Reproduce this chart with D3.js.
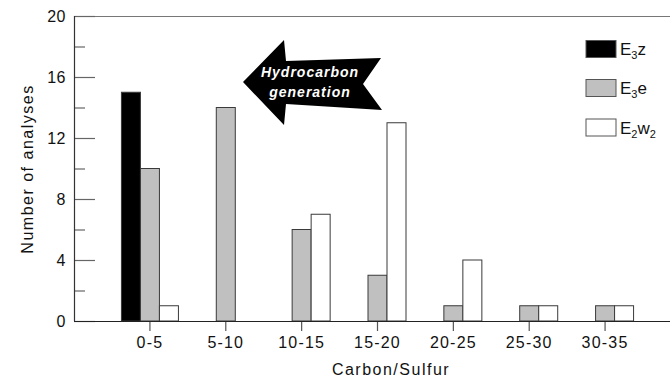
<!DOCTYPE html>
<html>
<head>
<meta charset="utf-8">
<script src="https://cdn.jsdelivr.net/npm/d3@7"></script>
<style>
  html, body { margin: 0; padding: 0; background: #fff; }
  svg { display: block; font-family: "Liberation Sans", Arial, sans-serif; }
</style>
</head>
<body>
<svg id="chart" width="670" height="382"></svg>
<script>
const categories = ["0-5", "5-10", "10-15", "15-20", "20-25", "25-30", "30-35"];
const seriesNames = ["E3z", "E3e", "E2w2"];
const E3z  = [15, 0, 0, 0, 0, 0, 0];
const E3e  = [10, 14, 6, 3, 1, 1, 1];
const E2w2 = [1, 0, 7, 13, 4, 1, 1];
const seriesValues = [E3z, E3e, E2w2];
const seriesColors = ["#000000", "#c0c0c0", "#ffffff"];
const legendLabels = [
  {base: "E", sub1: "3", rest: "z", sub2: ""},
  {base: "E", sub1: "3", rest: "e", sub2: ""},
  {base: "E", sub1: "2", rest: "w", sub2: "2"}
];
const yMajorTicks = [0, 4, 8, 12, 16, 20];
const yMinorTicks = [2, 6, 10, 14, 18];

const svg = d3.select("#chart");
const plotLeft = 74, plotTop = 16, plotBottom = 321, plotRight = 670;

const x0 = d3.scaleBand().domain(categories).range([112, 643]).paddingInner(0).paddingOuter(0);
const x1 = d3.scaleBand().domain(seriesNames).range([-28.5, 28.5]);
const y = d3.scaleLinear().domain([0, 20]).range([plotBottom, plotTop]);

// bars
seriesNames.forEach((s, si) => {
  svg.append("g").selectAll("rect")
    .data(categories.map((c, i) => ({c, v: seriesValues[si][i]})).filter(d => d.v > 0))
    .join("rect")
    .attr("x", d => x0(d.c) + x0.bandwidth() / 2 + x1(s))
    .attr("y", d => y(d.v))
    .attr("width", x1.bandwidth())
    .attr("height", d => y(0) - y(d.v))
    .attr("fill", seriesColors[si])
    .attr("stroke", "#3a3a3a")
    .attr("stroke-width", 1);
});

// top frame line
svg.append("line").attr("x1", plotLeft).attr("x2", plotRight).attr("y1", plotTop + 0.5).attr("y2", plotTop + 0.5)
  .attr("stroke", "#777").attr("stroke-width", 1.2);

// Y axis major
const yAxisMajor = d3.axisLeft(y).tickValues(yMajorTicks).tickSize(-21).tickPadding(8);
const gy = svg.append("g").attr("transform", `translate(${plotLeft},0)`).call(yAxisMajor);
gy.select(".domain").remove();
gy.selectAll(".tick line").attr("stroke", "#666").attr("stroke-width", 1.2);
gy.selectAll(".tick text").attr("font-size", 16).attr("fill", "#111")
  .attr("font-family", "Liberation Sans, Arial, sans-serif").attr("letter-spacing", 0.5);

// Y axis minor
const yAxisMinor = d3.axisLeft(y).tickValues(yMinorTicks).tickSize(-11).tickFormat("");
const gym = svg.append("g").attr("transform", `translate(${plotLeft},0)`).call(yAxisMinor);
gym.select(".domain").remove();
gym.selectAll(".tick line").attr("stroke", "#666").attr("stroke-width", 1.2);

// y axis line
svg.append("line").attr("x1", plotLeft + 0.5).attr("x2", plotLeft + 0.5).attr("y1", plotTop).attr("y2", plotBottom)
  .attr("stroke", "#333").attr("stroke-width", 1.2);

// X axis
const xAxis = d3.axisBottom(x0).tickSize(10).tickPadding(6);
const gx = svg.append("g").attr("transform", `translate(0,${plotBottom})`).call(xAxis);
gx.select(".domain").remove();
gx.selectAll(".tick line").attr("stroke", "#555").attr("stroke-width", 1.2);
gx.selectAll(".tick text").attr("font-size", 16).attr("fill", "#111")
  .attr("font-family", "Liberation Sans, Arial, sans-serif").attr("letter-spacing", 1.2);

svg.append("line").attr("x1", plotLeft).attr("x2", plotRight).attr("y1", plotBottom + 0.5).attr("y2", plotBottom + 0.5)
  .attr("stroke", "#222").attr("stroke-width", 1.2);

// axis titles
svg.append("text").attr("x", 391).attr("y", 375).attr("text-anchor", "middle")
  .attr("font-size", 16).attr("letter-spacing", 1.5).attr("fill", "#111").text("Carbon/Sulfur");
svg.append("text").attr("transform", "translate(33,169) rotate(-90)").attr("text-anchor", "middle")
  .attr("font-size", 16).attr("letter-spacing", 1.5).attr("fill", "#111").text("Number of analyses");

// Arrow
const arrowPts = [[243,82],[284,40],[286,61],[381,58],[363,84],[382,110],[286,104],[284,125]];
svg.append("path").attr("d", d3.line()(arrowPts) + "Z").attr("fill", "#000");
svg.append("text").attr("x", 310).attr("y", 77).attr("text-anchor", "middle")
  .attr("font-size", 14).attr("font-weight", "bold").attr("font-style", "italic")
  .attr("letter-spacing", 1).attr("fill", "#fff").text("Hydrocarbon");
svg.append("text").attr("x", 310).attr("y", 97).attr("text-anchor", "middle")
  .attr("font-size", 14).attr("font-weight", "bold").attr("font-style", "italic")
  .attr("letter-spacing", 1).attr("fill", "#fff").text("generation");

// Legend
const legendY = [49, 88, 127.5];
seriesNames.forEach((s, i) => {
  const g = svg.append("g").attr("transform", `translate(586,${legendY[i]})`);
  g.append("rect").attr("x", 0).attr("y", -8.5).attr("width", 30).attr("height", 17)
    .attr("fill", seriesColors[i]).attr("stroke", "#555").attr("stroke-width", 1);
  const t = g.append("text").attr("x", 34).attr("y", 6).attr("font-size", 17).attr("fill", "#111");
  const L = legendLabels[i];
  t.append("tspan").text(L.base);
  t.append("tspan").attr("font-size", 11).attr("dy", 4).text(L.sub1);
  t.append("tspan").attr("dy", -4).text(L.rest);
  if (L.sub2) t.append("tspan").attr("font-size", 11).attr("dy", 4).text(L.sub2);
});
</script>
</body>
</html>
